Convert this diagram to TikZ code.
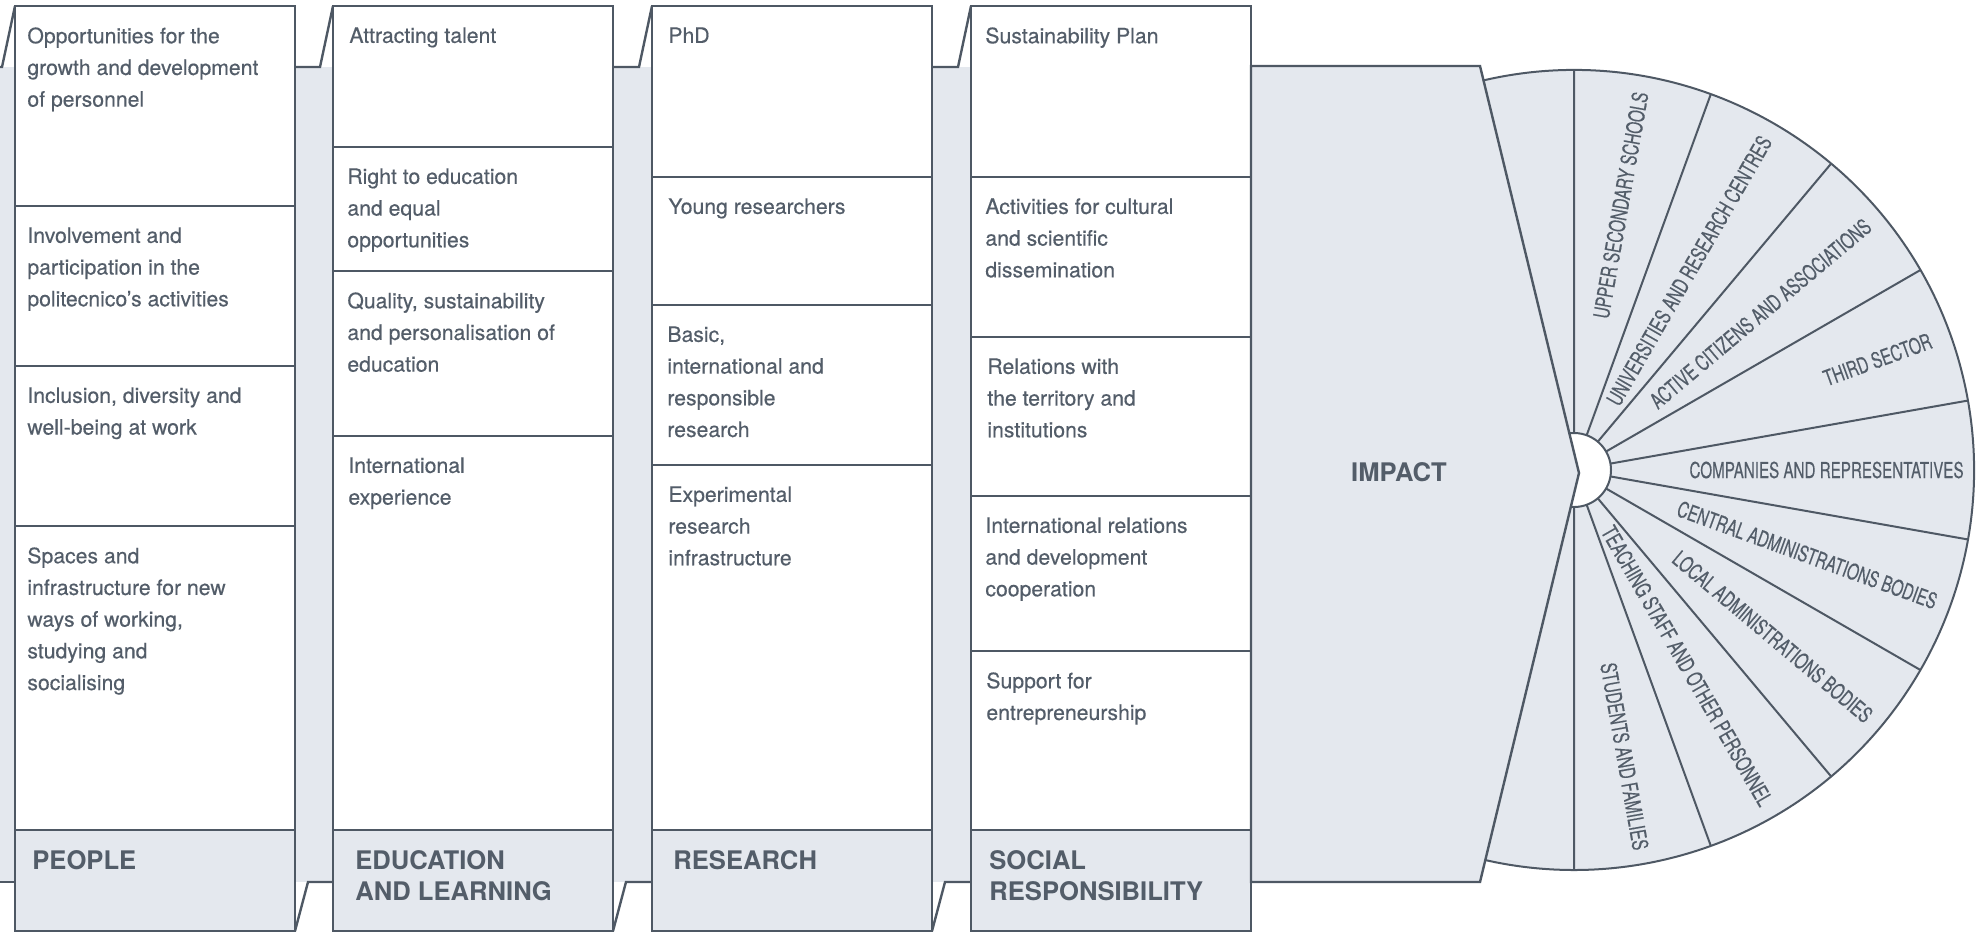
\documentclass[tikz,border=0pt]{standalone}
\usepackage{fontspec}
\setmainfont{TeX Gyre Heros}
\newfontfamily\itemfont{TeX Gyre Heros}[FakeBold=0.35]
\newfontfamily\narrowfont{TeX Gyre Heros}[FakeStretch=0.69,FakeBold=0.3]
\usepackage{tikz}
\usetikzlibrary{positioning}
\definecolor{ink}{HTML}{4E5864}
\definecolor{txt}{HTML}{535D69}
\definecolor{paper}{HTML}{E4E8EE}
\tikzset{
	cell/.style={draw=ink,line width=1.2pt,fill=white},
	foot/.style={draw=ink,line width=1.2pt,fill=paper},
	edge/.style={draw=ink,line width=1.2pt},
	spoke/.style={draw=ink,line width=1pt},
	item/.style={anchor=north west,inner sep=0pt,align=left,text=txt,font=\fontsize{10.6}{15.85}\selectfont\itemfont},
	head/.style={anchor=north west,inner sep=0pt,align=left,text=txt,font=\fontsize{12.8}{15.5}\selectfont\bfseries},
	ray/.style={anchor=east,inner sep=0pt,text=txt,font=\fontsize{11}{12}\selectfont\narrowfont},
}
\begin{document}
\begin{tikzpicture}[x=0.5pt,y=-0.5pt]
	
	\useasboundingbox (0,0) rectangle (1986,934);
	
	\fill[paper] (0,67) rectangle (1260,882);
	\draw[edge] (0,67)--(2,67)--(15,6);
	\draw[edge] (295,67)--(320,67)--(333,6);
	\draw[edge] (613,67)--(639,67)--(652,6);
	\draw[edge] (932,67)--(958,67)--(971,6);
	\draw[edge] (0,882)--(15,882);
	\draw[edge] (295,931)--(308,882)--(333,882);
	\draw[edge] (613,931)--(626,882)--(652,882);
	\draw[edge] (932,931)--(945,882)--(971,882);
	
	\draw[cell] (15,6) rectangle (295,206);
	\draw[cell] (15,206) rectangle (295,366);
	\draw[cell] (15,366) rectangle (295,526);
	\draw[cell] (15,526) rectangle (295,830);
	\draw[foot] (15,830) rectangle (295,931);
	
	\draw[cell] (333,6) rectangle (613,147);
	\draw[cell] (333,147) rectangle (613,271);
	\draw[cell] (333,271) rectangle (613,436);
	\draw[cell] (333,436) rectangle (613,830);
	\draw[foot] (333,830) rectangle (613,931);
	
	\draw[cell] (652,6) rectangle (932,177);
	\draw[cell] (652,177) rectangle (932,305);
	\draw[cell] (652,305) rectangle (932,465);
	\draw[cell] (652,465) rectangle (932,830);
	\draw[foot] (652,830) rectangle (932,931);
	
	\draw[cell] (971,6) rectangle (1251,177);
	\draw[cell] (971,177) rectangle (1251,337);
	\draw[cell] (971,337) rectangle (1251,496);
	\draw[cell] (971,496) rectangle (1251,651);
	\draw[cell] (971,651) rectangle (1251,830);
	\draw[foot] (971,830) rectangle (1251,931);
	
	\begin{scope}[shift={(1574,470)},y=0.5pt]
		\coordinate (O) at (0,0);
		\fill[paper] (O)--(105:400) arc[start angle=105,end angle=-105,radius=400]--cycle;
		\draw[spoke] (105:400) arc[start angle=105,end angle=-105,radius=400];
		\draw[spoke] (90:37)--(90:400) (70:37)--(70:400) (50:37)--(50:400)
			(30:37)--(30:400) (10:37)--(10:400) (-10:37)--(-10:400)
			(-30:37)--(-30:400) (-50:37)--(-50:400) (-70:37)--(-70:400)
			(-90:37)--(-90:400);
		\draw[spoke,fill=white] (O) circle[radius=37];
		
		\node[ray,rotate=80] (f1) at (80:384) {UPPER SECONDARY SCHOOLS};
		\node[ray,rotate=60] (f2) at (60:384) {UNIVERSITIES AND RESEARCH CENTRES};
		\node[ray,rotate=40] (f3) at (40:384) {ACTIVE CITIZENS AND ASSOCIATIONS};
		\node[ray,rotate=20] (f4) at (20:380) {THIRD SECTOR};
		\node[ray] (f5) at (0:390) {COMPANIES AND REPRESENTATIVES};
		\node[ray,rotate=-20] (f6) at (-20:386) {CENTRAL ADMINISTRATIONS BODIES};
		\node[ray,rotate=-40] (f7) at (-40:386) {LOCAL ADMINISTRATIONS BODIES};
		\node[ray,rotate=-60] (f8) at (-60:386) {TEACHING STAFF AND OTHER PERSONNEL};
		\node[ray,rotate=-80] (f9) at (-80:386) {STUDENTS AND FAMILIES};
	\end{scope}
	
	\draw[foot] (1251,66)--(1480,66)--(1579,473)--(1480,882)--(1251,882)--cycle;
	\node[text=txt,font=\fontsize{12.8}{15}\selectfont\bfseries] (impact) at (1399,472) {IMPACT};
	
	\node[item] (p1) at (27,27) {Opportunities for the\\growth and development\\of personnel};
	\node[item] (p2) at (27,227) {Involvement and\\participation in the\\politecnico’s activities};
	\node[item] (p3) at (27,387) {Inclusion, diversity and\\well-being at work};
	\node[item] (p4) at (27,547) {Spaces and\\infrastructure for new\\ways of working,\\studying and\\socialising};
	\node[head] (ph) at (32,850) {PEOPLE};
	
	\node[item] (e1) at (349,27) {Attracting talent};
	\node[item] (e2) at (347,168) {Right to education\\and equal\\opportunities};
	\node[item] (e3) at (347,292) {Quality, sustainability\\and personalisation of\\education};
	\node[item] (e4) at (348,457) {International\\experience};
	\node[head] (eh) at (355,850) {EDUCATION\\AND LEARNING};
	
	\node[item] (r1) at (668,27) {PhD};
	\node[item] (r2) at (668,198) {Young researchers};
	\node[item] (r3) at (667,326) {Basic,\\international and\\responsible\\research};
	\node[item] (r4) at (668,486) {Experimental\\research\\infrastructure};
	\node[head] (rh) at (673,850) {RESEARCH};
	
	\node[item] (s1) at (985,27) {Sustainability Plan};
	\node[item] (s2) at (985,198) {Activities for cultural\\and scientific\\dissemination};
	\node[item] (s3) at (987,358) {Relations with\\the territory and\\institutions};
	\node[item] (s4) at (985,517) {International relations\\and development\\cooperation};
	\node[item] (s5) at (986,672) {Support for\\entrepreneurship};
	\node[head] (sh) at (989,850) {SOCIAL\\RESPONSIBILITY};
	
\end{tikzpicture}
\end{document}
